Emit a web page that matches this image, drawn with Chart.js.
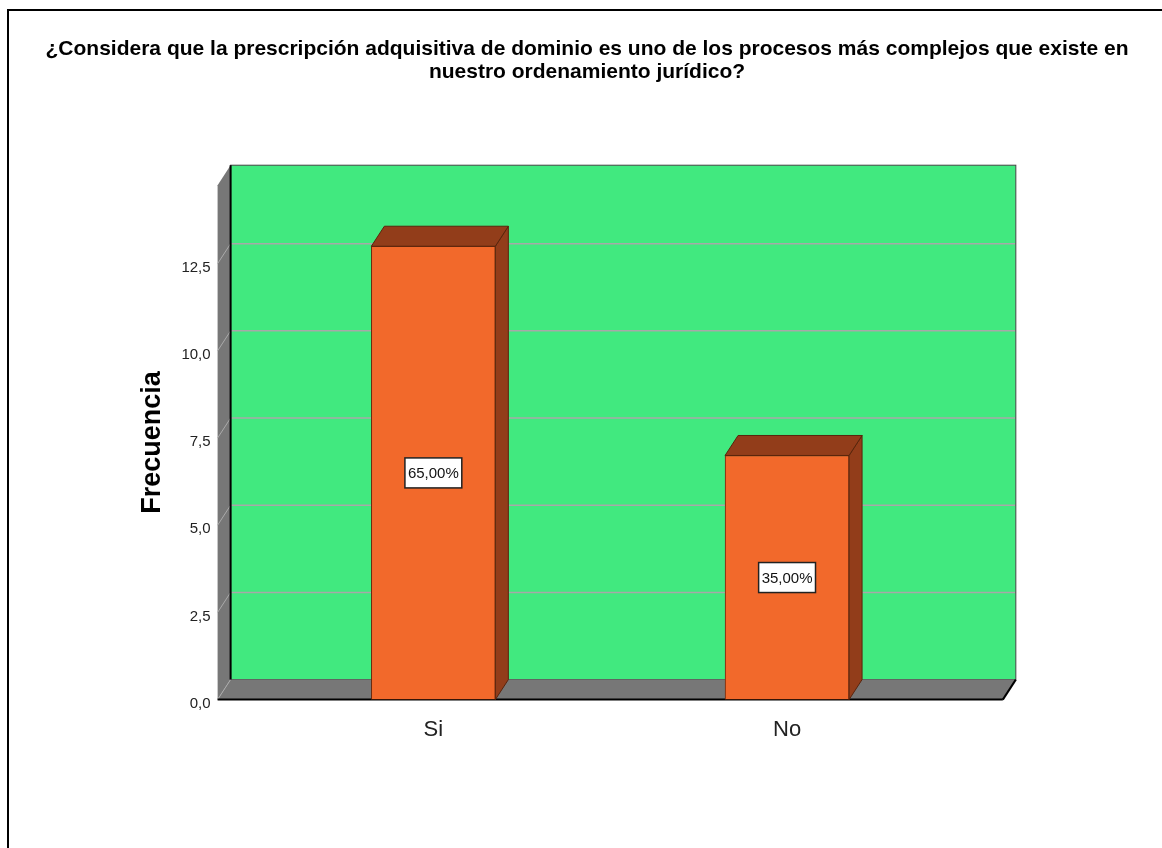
<!DOCTYPE html>
<html>
<head>
<meta charset="utf-8">
<script src="https://cdn.jsdelivr.net/npm/chart.js@4.4.0/dist/chart.umd.min.js"></script>
<style>
  html, body { margin: 0; padding: 0; background: #fff; }
  #frame { position: absolute; left: 7px; top: 9px; right: 0; bottom: 0; border-left: 2px solid #000; border-top: 2px solid #000; }
  #wrap { position: absolute; left: 0; top: 0; width: 1162px; height: 848px; }
</style>
</head>
<body>
<div id="frame"></div>
<div id="wrap"><canvas id="myChart"></canvas></div>
<script>
let categories = ["Si", "No"];
let frequencies = [13, 7];
let yTicks = [0, 2.5, 5, 7.5, 10, 12.5];
let titleLines = [
  "¿Considera que la prescripción adquisitiva de dominio es uno de los procesos más complejos que existe en",
  "nuestro ordenamiento jurídico?"
];
let axisTitle = "Frecuencia";

let wallColor = "#41E97F";
let sideColor = "#777777";
let barColor = "#F2692B";
let barDark = "#923D1A";
let depthX = 13;
let depthY = 20;
// the floor and back wall stop here on the x scale; the rest of the canvas stays blank
let floorStart = -0.61;
let floorEnd = 1.61;

let total = frequencies.reduce((a, b) => a + b, 0);

function commaNum(v, d) {
  return v.toFixed(d).replace(".", ",");
}

function poly(ctx, pts, fill, stroke) {
  ctx.beginPath();
  ctx.moveTo(pts[0][0], pts[0][1]);
  for (let i = 1; i < pts.length; i++) ctx.lineTo(pts[i][0], pts[i][1]);
  ctx.closePath();
  ctx.fillStyle = fill;
  ctx.fill();
  if (stroke) {
    ctx.strokeStyle = stroke;
    ctx.lineWidth = 1;
    ctx.stroke();
  }
}

function line(ctx, x1, y1, x2, y2) {
  ctx.beginPath();
  ctx.moveTo(x1, y1);
  ctx.lineTo(x2, y2);
  ctx.stroke();
}

// back wall, left wall and floor behind the bars, then bar sides and labels on top
const box3d = {
  id: "box3d",
  beforeDatasetsDraw(chart) {
    const ctx = chart.ctx;
    const a = chart.chartArea;
    const x = chart.scales.x;
    const y = chart.scales.y;
    const left = x.getPixelForValue(floorStart);
    const right = x.getPixelForValue(floorEnd);
    const top = a.top;
    const bottom = y.getPixelForValue(0);
    ctx.save();

    ctx.fillStyle = wallColor;
    ctx.fillRect(left + depthX, top - depthY, right - left, bottom - top);

    ctx.strokeStyle = "#A8A8A8";
    ctx.lineWidth = 1.5;
    yTicks.forEach(v => {
      if (v === 0) return;
      const py = y.getPixelForValue(v) - depthY;
      line(ctx, left + depthX, py, right + depthX, py);
    });

    ctx.strokeStyle = "#444";
    ctx.lineWidth = 1;
    ctx.strokeRect(left + depthX, top - depthY, right - left, bottom - top);

    poly(ctx, [[left, top], [left + depthX, top - depthY], [left + depthX, bottom - depthY], [left, bottom]], sideColor);
    poly(ctx, [[left, bottom], [left + depthX, bottom - depthY], [right + depthX, bottom - depthY], [right, bottom]], sideColor);

    ctx.strokeStyle = "#AAAAAA";
    ctx.lineWidth = 1;
    yTicks.forEach(v => {
      const py = y.getPixelForValue(v);
      line(ctx, left, py, left + depthX, py - depthY);
    });

    ctx.strokeStyle = "#000";
    ctx.lineWidth = 2;
    line(ctx, left + depthX, top - depthY, left + depthX, bottom - depthY);
    line(ctx, left, bottom, right, bottom);
    line(ctx, right, bottom, right + depthX, bottom - depthY);
    ctx.restore();
  },
  afterDatasetsDraw(chart) {
    const ctx = chart.ctx;
    const meta = chart.getDatasetMeta(0);
    ctx.save();
    meta.data.forEach((bar, i) => {
      const p = bar.getProps(["x", "y", "base", "width"], true);
      const l = p.x - p.width / 2;
      const r = p.x + p.width / 2;
      poly(ctx, [[r, p.y], [r + depthX, p.y - depthY], [r + depthX, p.base - depthY], [r, p.base]], barDark, "#5A240C");
      poly(ctx, [[l, p.y], [l + depthX, p.y - depthY], [r + depthX, p.y - depthY], [r, p.y]], barDark, "#5A240C");

      const text = commaNum(frequencies[i] / total * 100, 2) + "%";
      ctx.font = "15px 'Liberation Sans', Arial, sans-serif";
      const tw = ctx.measureText(text).width;
      const cy = (p.y + p.base) / 2;
      const bw = tw + 6;
      const bh = 30;
      ctx.fillStyle = "#fff";
      ctx.fillRect(p.x - bw / 2, cy - bh / 2, bw, bh);
      ctx.strokeStyle = "#222";
      ctx.lineWidth = 1.5;
      ctx.strokeRect(p.x - bw / 2, cy - bh / 2, bw, bh);
      ctx.fillStyle = "#111";
      ctx.textAlign = "center";
      ctx.textBaseline = "middle";
      ctx.fillText(text, p.x, cy + 1);
    });
    ctx.restore();
  }
};

Chart.defaults.font.family = "'Liberation Sans', Arial, sans-serif";

new Chart("myChart", {
  type: "bar",
  data: {
    datasets: [{
      data: categories.map((c, i) => ({ x: i, y: frequencies[i] })),
      backgroundColor: barColor,
      borderColor: "#6B2A0E",
      borderWidth: 1,
      borderSkipped: false,
      barThickness: 124
    }]
  },
  options: {
    responsive: true,
    maintainAspectRatio: false,
    animation: false,
    layout: { padding: { left: 12, right: 0, top: 0, bottom: 88 } },
    plugins: {
      legend: { display: false },
      tooltip: { enabled: false },
      title: {
        display: true,
        text: titleLines,
        color: "#000",
        font: { size: 21, weight: "bold", lineHeight: 1.1 },
        padding: { top: 38, bottom: 101 }
      }
    },
    scales: {
      x: {
        type: "linear",
        min: floorStart,
        max: 2.06,
        offset: false,
        grid: { display: false, drawTicks: false },
        border: { display: false },
        afterBuildTicks: axis => { axis.ticks = categories.map((c, i) => ({ value: i })); },
        ticks: {
          padding: 17,
          color: "#222",
          font: { size: 22 },
          callback: v => categories[v]
        }
      },
      y: {
        min: 0,
        max: 14.75,
        grid: { display: false, drawTicks: false },
        border: { display: false },
        afterBuildTicks: axis => { axis.ticks = yTicks.map(v => ({ value: v })); },
        ticks: {
          padding: 7,
          labelOffset: 4,
          color: "#222",
          font: { size: 15 },
          callback: v => commaNum(v, 1)
        },
        title: {
          display: true,
          text: axisTitle,
          color: "#000",
          font: { size: 27, weight: "bold" },
          padding: { top: 124, bottom: 6 }
        }
      }
    }
  },
  plugins: [box3d]
});
</script>
</body>
</html>
